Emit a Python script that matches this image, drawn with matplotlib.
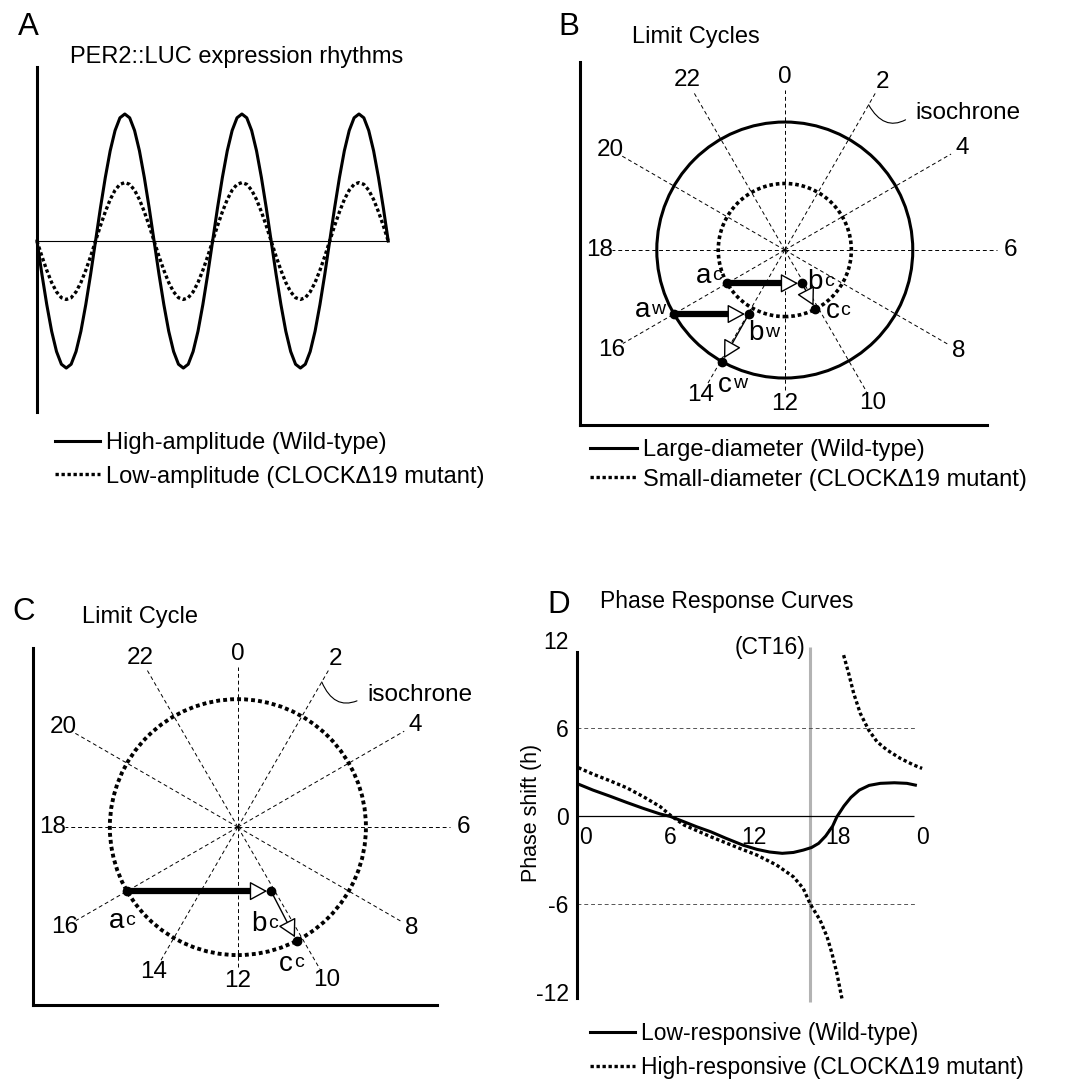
import numpy as np
import matplotlib
matplotlib.use('Agg')
import matplotlib.pyplot as plt
from matplotlib.patches import Circle
from matplotlib.lines import Line2D

plt.rcParams['font.family'] = ['Liberation Sans', 'DejaVu Sans']
plt.rcParams['font.size'] = 17

# ---------------- data ----------------
# A: one 24 h cycle of the rhythm, read at 1 h steps (wild-type peak = 1)
cycle_shape = [0, -0.26, -0.5, -0.71, -0.87, -0.97, -1.0, -0.97, -0.87, -0.71, -0.5, -0.26,
               0, 0.26, 0.5, 0.71, 0.87, 0.97, 1.0, 0.97, 0.87, 0.71, 0.5, 0.26]
n_cycles = 3
amp_wt = 1.0
amp_mut = 0.46

# B, C: isochrones on the clock face and how far out their labels sit
iso_hours = [0, 2, 4, 6, 8, 10, 12, 14, 16, 18, 20, 22]
iso_label_r = [1.35, 1.52, 1.60, 1.76, 1.57, 1.38, 1.20, 1.31, 1.56, 1.45, 1.57, 1.53]
radius_wt = 1.0
radius_mut = 0.52
pulse_ct = 16          # stimulus at CT16
pulse_shift = 0.585    # state displacement by the stimulus (in wild-type radii)

# D: phase response curves
prc_wt_ct = [-0.55, 0.5, 1.7, 2.9, 4.1, 5.3, 6.0, 7.0, 7.9, 8.9, 10.0, 11.2, 12.2, 13.1, 14.0,
             14.8, 15.5, 16.1, 16.6, 17.1, 17.6, 17.9, 18.4, 18.9, 19.5, 20.2, 21.0, 22.0, 22.9, 23.5]
prc_wt = [2.18, 1.77, 1.36, 0.93, 0.52, 0.14, -0.02, -0.39, -0.73, -1.07, -1.52, -1.98, -2.27, -2.45, -2.54,
          -2.48, -2.32, -2.14, -1.86, -1.36, -0.68, -0.05, 0.68, 1.27, 1.77, 2.09, 2.23, 2.27, 2.23, 2.11]
prc_mut_ct_a = [-0.55, 0.5, 1.7, 2.9, 4.1, 5.3, 6.0, 7.0, 8.9, 10.8, 12.2, 13.6, 14.8, 15.5,
                16.0, 16.7, 17.2, 17.55, 17.9, 18.26]
prc_mut_a = [3.3, 2.86, 2.41, 1.93, 1.32, 0.64, 0.07, -0.61, -1.41, -2.14, -2.66, -3.34, -4.14, -4.93,
             -6.0, -7.09, -8.23, -9.36, -10.72, -12.43]
prc_mut_ct_b = [18.38, 18.74, 19.1, 19.57, 20.17, 20.76, 21.48, 22.43, 23.38, 23.98]
prc_mut_b = [10.97, 9.73, 8.36, 7.0, 5.86, 5.07, 4.5, 3.93, 3.48, 3.25]
shift_ticks = [-12, -6, 0, 6, 12]
ct_ticks = [0, 6, 12, 18, 24]
ct_labels = ['0', '6', '12', '18', '0']

# ---------------- layout helpers (pixels of the 1075x1080 figure) ----------------
W, H = 1075, 1080
fig = plt.figure(figsize=(W / 100, H / 100), dpi=100)
DOT = (0, (1, 0.8))


def box(l, t, r, b):
    return [l / W, 1 - b / H, (r - l) / W, (b - t) / H]


def fig_text(x, y, s, **kw):
    fig.text(x / W, 1 - y / H, s, **kw)


def bare(ax, keep=('left', 'bottom')):
    for name, sp in ax.spines.items():
        sp.set_visible(name in keep)
        sp.set_linewidth(2.2)
    ax.set_xticks([])
    ax.set_yticks([])
    ax.patch.set_alpha(0)


def add_legend(ax, handles, left, row1, pitch, hlen, size=17):
    em = size * 100 / 72
    txt_h = 0.94 * em
    ax.legend(handles=handles, loc='upper left',
              bbox_to_anchor=(left / W, 1 - (row1 - txt_h / 2) / H),
              bbox_transform=fig.transFigure, frameon=False, borderpad=0, borderaxespad=0,
              handlelength=hlen / em, handletextpad=6 / em, labelspacing=(pitch - txt_h) / em,
              fontsize=size)


def clock_face(ax):
    for hr, lr in zip(iso_hours, iso_label_r):
        ang = np.deg2rad(90 - 15 * hr)
        ux, uy = np.cos(ang), np.sin(ang)
        ax.plot([0, (lr - 0.1) * ux], [0, (lr - 0.1) * uy], color='black', lw=0.7,
                ls=(0, (4, 3)), clip_on=False)
        ax.text(lr * ux, lr * uy, str(hr), ha='center', va='center', fontsize=17.5)


def isochrone_note(ax, text_xy):
    ang = np.deg2rad(90 - 15 * 2)
    p = 1.31 * np.array([np.cos(ang), np.sin(ang)])
    ax.annotate('isochrone', xy=p, xytext=text_xy, ha='left', va='center', fontsize=17.5,
                arrowprops=dict(arrowstyle='-', connectionstyle='arc3,rad=-0.6', color='black',
                                lw=0.8, shrinkA=6, shrinkB=0, relpos=(0, 0.5)))


def stimulus(ax, radius, shift, sub, offsets):
    ang = np.deg2rad(90 - 15 * pulse_ct)
    a = radius * np.array([np.cos(ang), np.sin(ang)])
    b = a + np.array([shift, 0])
    c = radius * b / np.hypot(*b)
    head, gap = 0.115, 0.03
    head_style = dict(arrowstyle='-|>,head_length=1.1,head_width=0.6', mutation_scale=10,
                      fc='white', ec='black', lw=1.0, shrinkA=0, shrinkB=0)
    ax.plot([a[0], b[0] - gap - head + 0.01], [a[1], a[1]], color='black', lw=4.5,
            solid_capstyle='butt', zorder=3)
    ax.annotate('', xy=(b[0] - gap, b[1]), xytext=(b[0] - gap - head, b[1]),
                arrowprops=head_style, zorder=4)
    d = (c - b) / np.hypot(*(c - b))
    ax.annotate('', xy=c - d * gap, xytext=b, arrowprops=head_style, zorder=4)
    ax.plot([a[0], b[0], c[0]], [a[1], b[1], c[1]], 'o', color='black', ms=6, zorder=5)
    for p, main, off in zip((a, b, c), 'abc', offsets):
        ax.annotate(main, p, xytext=off, textcoords='offset pixels', ha='right', va='center',
                    fontsize=20)
        ax.annotate(sub, p, xytext=(off[0] + 1, off[1] + 1), textcoords='offset pixels',
                    ha='left', va='center', fontsize=14)


# ---------------- A: expression rhythms ----------------
axA = fig.add_axes(box(37, 67, 398, 412))
bare(axA, keep=('left',))
t = np.arange(len(cycle_shape) * n_cycles + 1)
shape = np.array(cycle_shape * n_cycles + cycle_shape[:1])
wtA, = axA.plot(t, amp_wt * shape, color='black', lw=2.2, label='High-amplitude (Wild-type)',
                clip_on=False)
mutA, = axA.plot(t, amp_mut * shape, color='black', lw=2.4, ls=DOT,
                 label='Low-amplitude (CLOCKΔ19 mutant)', clip_on=False)
axA.hlines(0, t[0], t[-1], color='black', lw=0.8)
axA.set_xlim(0, 74)
axA.set_ylim(-1.346, 1.37)
add_legend(axA, [wtA, mutA], 55, 443, 34, 45)

# ---------------- B: limit cycles ----------------
axB = fig.add_axes(box(580, 62, 987, 425))
bare(axB)
axB.set_xlim(-1.60, 1.58)
axB.set_ylim(-1.367, 1.469)
clock_face(axB)
axB.add_patch(Circle((0, 0), radius_wt, fill=False, ec='black', lw=2.2))
axB.add_patch(Circle((0, 0), radius_mut, fill=False, ec='black', lw=2.6, ls=DOT))
stimulus(axB, radius_mut, pulse_shift, 'c', [(-16, 7), (21, 1), (24, -2)])
stimulus(axB, radius_wt, pulse_shift, 'w', [(-24, 4), (15, -19), (10, -23)])
isochrone_note(axB, (1.02, 1.07))
add_legend(axB, [Line2D([], [], color='black', lw=2.2, label='Large-diameter (Wild-type)'),
                 Line2D([], [], color='black', lw=2.4, ls=DOT,
                        label='Small-diameter (CLOCKΔ19 mutant)')], 590, 450, 30, 47)

# ---------------- C: mutant limit cycle ----------------
axC = fig.add_axes(box(33, 648, 437, 1005))
bare(axC)
axC.set_xlim(-1.60, 1.555)
axC.set_ylim(-1.39, 1.40)
clock_face(axC)
axC.add_patch(Circle((0, 0), 1.0, fill=False, ec='black', lw=2.8, ls=DOT))
stimulus(axC, 1.0, pulse_shift / radius_mut, 'c', [(-3, -30), (-4, -33), (-4, -23)])
isochrone_note(axC, (1.01, 1.03))

# ---------------- D: phase response curves ----------------
axD = fig.add_axes(box(577, 640, 935, 998))
bare(axD, keep=('left',))
axD.set_xlim(-0.64, 24.9)
axD.set_ylim(-12.4, 12.0)
axD.spines['left'].set_bounds(-12.4, 11.2)
axD.set_yticks(shift_ticks, [str(v) for v in shift_ticks])
axD.tick_params(axis='y', length=0, pad=6, labelsize=16.5)
axD.hlines([-6, 6], -0.64, 23.6, color='#555555', lw=0.7, linestyles=[(0, (4, 3))])
axD.hlines(0, -0.64, 23.4, color='black', lw=0.9)
axD.vlines(pulse_ct, -12.7, 11.5, color='#b3b3b3', lw=2.2, clip_on=False, zorder=1)
axD.annotate('(CT16)', (pulse_ct, 11.5), xytext=(-5, 0), textcoords='offset pixels',
             ha='right', va='center', fontsize=16.5)
for h, lab in zip(ct_ticks, ct_labels):
    axD.annotate(lab, (h, 0), xytext=(0, -10), textcoords='offset pixels', ha='center',
                 va='top', fontsize=16.5)
wtD, = axD.plot(prc_wt_ct, prc_wt, color='black', lw=2.2, label='Low-responsive (Wild-type)',
                zorder=3)
mutD, = axD.plot(prc_mut_ct_a, prc_mut_a, color='black', lw=2.4, ls=DOT,
                 label='High-responsive (CLOCKΔ19 mutant)', zorder=3, clip_on=False)
axD.plot(prc_mut_ct_b, prc_mut_b, color='black', lw=2.4, ls=DOT, zorder=3, clip_on=False)
add_legend(axD, [wtD, mutD], 590, 1033, 32, 45, size=16.5)

# ---------------- titles and panel letters ----------------
fig_text(70, 63, 'PER2::LUC expression rhythms', va='baseline')
fig_text(632, 43, 'Limit Cycles', va='baseline')
fig_text(82, 623, 'Limit Cycle', va='baseline')
fig_text(600, 608, 'Phase Response Curves', va='baseline', fontsize=16.5)
fig_text(532, 813, 'Phase shift (h)', rotation=90, ha='center', va='center', fontsize=15.5)
for letter, x, y in [('A', 18, 35), ('B', 558, 35), ('C', 12, 620), ('D', 547, 613)]:
    fig_text(x, y, letter, fontsize=22.5, va='baseline')

fig.savefig('out.png', dpi=100)
